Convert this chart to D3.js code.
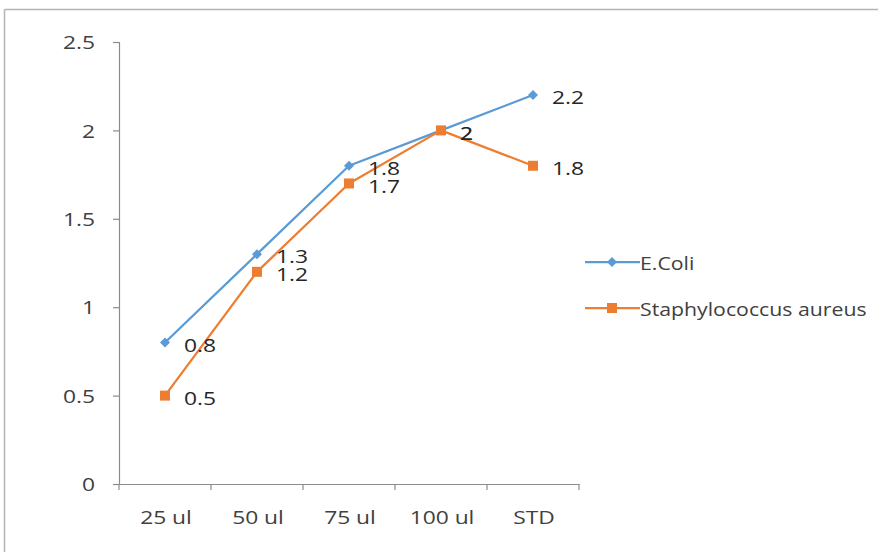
<!DOCTYPE html>
<html>
<head>
<meta charset="utf-8">
<script src="https://cdn.jsdelivr.net/npm/d3@7"></script>
<style>
  html, body { margin: 0; padding: 0; background: #fff; }
  svg { display: block; }
  text { font-family: "Open Sans", "Noto Sans", sans-serif; fill: #404040; }
</style>
</head>
<body>
<svg id="chart" width="878" height="552"></svg>
<script>
const categories = ["25 ul", "50 ul", "75 ul", "100 ul", "STD"];
const eColi = [0.8, 1.3, 1.8, 2, 2.2];
const staph = [0.5, 1.2, 1.7, 2, 1.8];
const yTicks = [0, 0.5, 1, 1.5, 2, 2.5];
const seriesNames = ["E.Coli", "Staphylococcus aureus"];

const svg = d3.select("#chart");
const W = 878, H = 552;

// outer frame
svg.append("line").attr("x1", 4.5).attr("x2", W).attr("y1", 9.5).attr("y2", 9.5)
  .attr("stroke", "#b4b4b4").attr("stroke-width", 1.5);
svg.append("line").attr("x1", 4.5).attr("x2", 4.5).attr("y1", 9.5).attr("y2", H)
  .attr("stroke", "#b4b4b4").attr("stroke-width", 1.5);

const plot = { left: 119, right: 579, top: 42, bottom: 484 };

const x = d3.scaleBand().domain(categories).range([plot.left, plot.right]).padding(0);
const y = d3.scaleLinear().domain([0, 2.5]).range([plot.bottom, plot.top]);

const axisColor = "#8c8c8c";
const FS = 19;

function stretchedText(g, px, py, txt, sx, anchor, size, color) {
  return g.append("text")
    .attr("transform", `translate(${px},${py}) scale(${sx},1)`)
    .attr("text-anchor", anchor)
    .attr("dominant-baseline", "central")
    .style("font-size", size + "px")
    .style("fill", color)
    .text(txt);
}

// y axis
const yAxis = svg.append("g").attr("transform", `translate(${plot.left},0)`)
  .call(d3.axisLeft(y).tickValues(yTicks).tickSize(6).tickFormat(""));
yAxis.select(".domain").attr("stroke", axisColor).attr("stroke-width", 1.2);
yAxis.selectAll(".tick line").attr("stroke", axisColor).attr("stroke-width", 1.2);
yAxis.selectAll(".tick text").remove();
const yLab = svg.append("g");
yTicks.forEach(t => stretchedText(yLab, 95, y(t), String(t), 1.2, "end", FS, "#404040"));

// x axis
const xAxis = svg.append("g").attr("transform", `translate(0,${plot.bottom})`)
  .call(d3.axisBottom(x).tickSize(0).tickFormat(""));
xAxis.select(".domain").attr("stroke", axisColor).attr("stroke-width", 1.2);
xAxis.selectAll(".tick text").remove();
const bounds = categories.map(c => x(c)).concat([x(categories[categories.length - 1]) + x.bandwidth()]);
xAxis.selectAll(".bound").data(bounds).enter().append("line")
  .attr("x1", d => d).attr("x2", d => d).attr("y1", 0).attr("y2", 6)
  .attr("stroke", axisColor).attr("stroke-width", 1.2);

const cx = c => x(c) + x.bandwidth() / 2;
const xLab = svg.append("g");
categories.forEach(c => stretchedText(xLab, cx(c) + 1, 517, c, 1.2, "middle", FS, "#404040"));

const series = [
  { name: seriesNames[0], values: eColi, color: "#5B9BD5", marker: "diamond" },
  { name: seriesNames[1], values: staph, color: "#ED7D31", marker: "square" }
];

const line = d3.line().x(d => cx(d.c)).y(d => y(d.v));

function drawMarker(g, type, color, px, py) {
  if (type === "diamond") {
    g.append("path")
      .attr("d", `M${px},${py - 5}L${px + 5},${py}L${px},${py + 5}L${px - 5},${py}Z`)
      .attr("fill", color);
  } else {
    g.append("rect").attr("x", px - 5).attr("y", py - 5).attr("width", 10).attr("height", 10)
      .attr("fill", color);
  }
}

series.forEach(s => {
  const pts = categories.map((c, i) => ({ c, v: s.values[i] }));
  const g = svg.append("g");
  g.append("path").datum(pts).attr("d", line).attr("fill", "none")
    .attr("stroke", s.color).attr("stroke-width", 2.25).attr("stroke-linejoin", "round");
  pts.forEach(p => drawMarker(g, s.marker, s.color, cx(p.c), y(p.v)));
});

// data labels
const dl = svg.append("g");
series.forEach(s => {
  categories.forEach((c, i) => {
    stretchedText(dl, cx(c) + 19, y(s.values[i]) + 2, String(s.values[i]), 1.2, "start", FS, "#262626");
  });
});

// legend
const legend = svg.append("g");
series.forEach((s, i) => {
  const ly = 262 + i * 46;
  legend.append("line").attr("x1", 585).attr("x2", 640).attr("y1", ly).attr("y2", ly)
    .attr("stroke", s.color).attr("stroke-width", 2.25);
  drawMarker(legend, s.marker, s.color, 612, ly);
  stretchedText(legend, 640, ly, s.name, 1.12, "start", FS, "#404040");
});
</script>
</body>
</html>
